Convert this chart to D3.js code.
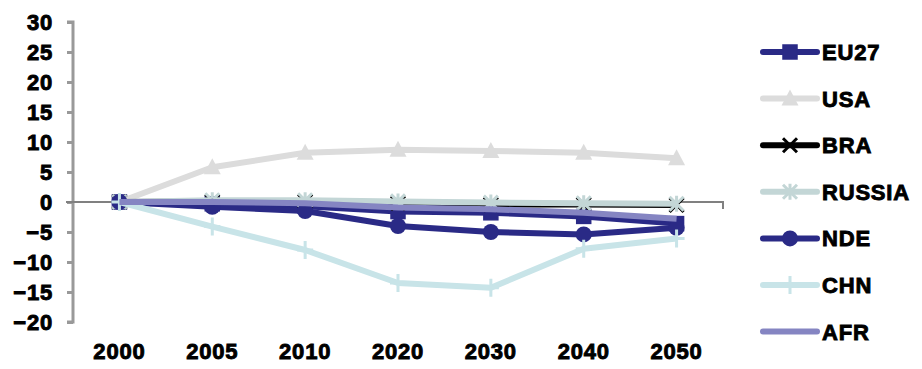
<!DOCTYPE html>
<html><head><meta charset="utf-8">
<script src="https://cdn.jsdelivr.net/npm/d3@7"></script>
<style>
html,body{margin:0;padding:0;background:#fff;}
text{font-family:"Liberation Sans",Arial,sans-serif;font-weight:bold;font-size:22px;fill:#000;stroke:#000;stroke-width:0.9px;letter-spacing:0.8px;}
</style></head>
<body><svg id="c" width="922" height="369"></svg>
<script>
const years = ["2000","2005","2010","2020","2030","2040","2050"];
const yTicks = [30,25,20,15,10,5,0,-5,-10,-15,-20];
const seriesNames = ["EU27","USA","BRA","RUSSIA","NDE","CHN","AFR"];
const EU27   = [0,-0.3,-0.7,-1.6,-1.8,-2.4,-3.6];
const USA    = [0, 5.8, 8.2, 8.7, 8.5, 8.2, 7.3];
const BRA    = [0, 0.1, 0.1,-0.2,-0.4,-0.4,-0.5];
const RUSSIA = [0, 0.3, 0.3, 0.1,-0.1,-0.2,-0.3];
const NDE    = [0,-0.8,-1.5,-4.0,-5.0,-5.4,-4.3];
const CHN    = [0,-4.1,-8.0,-13.5,-14.3,-7.8,-6.1];
const AFR    = [0, 0.0,-0.2,-0.9,-1.2,-1.8,-2.8];
const values = [EU27,USA,BRA,RUSSIA,NDE,CHN,AFR];

const colors = {EU27:"#2a2a86",USA:"#dcdcdc",BRA:"#000000",RUSSIA:"#c3d6d6",NDE:"#2a2a86",CHN:"#c8e4e8",AFR:"#8585c2"};
const markers = {EU27:"square",USA:"triangle",BRA:"x",RUSSIA:"star",NDE:"circle",CHN:"plus",AFR:"none"};

const svg = d3.select("#c");
const x = d3.scaleBand().domain(years).range([73,723]);
const y = d3.scaleLinear().domain([-20,30]).range([322,22]);
const cx = d => x(d) + x.bandwidth()/2;

// y axis
const ya = svg.append("g").attr("transform","translate(73,0)")
  .call(d3.axisLeft(y).tickValues(yTicks).tickSize(6).tickPadding(14).tickFormat(d3.format("d")));
ya.select(".domain").attr("stroke","#999").attr("stroke-width",3).attr("d","M-6,22H0V322H-6");
ya.selectAll(".tick line").attr("stroke","#999").attr("stroke-width",3);
ya.selectAll(".tick text").attr("dy","0.36em").style("font-size","22px").style("font-family","Liberation Sans, Arial, sans-serif").attr("fill","#000");

// category axis at zero
svg.append("path").attr("d",`M66,${y(0)}H723V${y(0)+7}`).attr("fill","none").attr("stroke","#808080").attr("stroke-width",2);

// x labels
svg.append("g").selectAll("text").data(years).join("text")
  .attr("x",d=>cx(d)).attr("y",359).attr("text-anchor","middle").text(d=>d);

function drawMarker(g, type, color, px, py){
  if(type==="square") g.append("rect").attr("x",px-7).attr("y",py-7).attr("width",14).attr("height",14).attr("fill",color).attr("stroke",color).attr("stroke-width",1.5);
  else if(type==="circle") g.append("circle").attr("cx",px).attr("cy",py).attr("r",8).attr("fill",color);
  else if(type==="triangle") g.append("path").attr("d",`M${px},${py-9}L${px+8.5},${py+7}L${px-8.5},${py+7}Z`).attr("fill",color);
  else if(type==="x") g.append("path").attr("d",`M${px-7},${py-7}L${px+7},${py+7}M${px-7},${py+7}L${px+7},${py-7}`).attr("stroke",color).attr("stroke-width",3);
  else if(type==="star") g.append("path").attr("d",`M${px-7},${py-7}L${px+7},${py+7}M${px-7},${py+7}L${px+7},${py-7}M${px},${py-8}V${py+8}`).attr("stroke",color).attr("stroke-width",3);
  else if(type==="plus") g.append("path").attr("d",`M${px},${py-9}V${py+9}M${px-8},${py}H${px+8}`).attr("stroke",color).attr("stroke-width",3);
}

const line = d3.line().x((d,i)=>cx(years[i])).y(d=>y(d));
seriesNames.forEach((name,si)=>{
  const g = svg.append("g");
  g.append("path").attr("d",line(values[si])).attr("fill","none").attr("stroke",colors[name]).attr("stroke-width",6).attr("stroke-linejoin","round");
  values[si].forEach((v,i)=>drawMarker(g,markers[name],colors[name],cx(years[i]),y(v)));
});

// legend
const lg = svg.append("g");
seriesNames.forEach((name,i)=>{
  const ly = 52 + i*46.6;
  lg.append("line").attr("x1",763).attr("x2",817).attr("y1",ly).attr("y2",ly).attr("stroke",colors[name]).attr("stroke-width",6).attr("stroke-linecap","round");
  drawMarker(lg,markers[name],colors[name],790,ly);
  lg.append("text").attr("x",822).attr("y",ly+8).text(name);
});
</script></body></html>
